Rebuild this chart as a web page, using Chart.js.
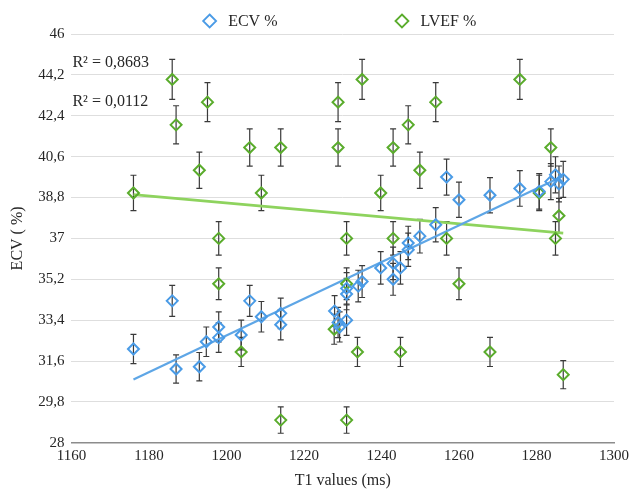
<!DOCTYPE html>
<html lang="en">
<head>
  <meta charset="UTF-8">
  <title>ECV / LVEF vs T1</title>
  <script src="https://cdn.jsdelivr.net/npm/chart.js"></script>
  <style>
    html, body { margin: 0; padding: 0; background: #fff; }
    #wrap { width: 629px; height: 490px; position: relative; }
  </style>
</head>
<body>
  <div id="wrap"><canvas id="t1Chart"></canvas></div>
  <script>
    // T1 (ms) and ECV % per patient
    const t1Ecv = [1176, 1186, 1187, 1193, 1194.8, 1198, 1198, 1203.8, 1206, 1209,
                   1214, 1214, 1227.9, 1228.8, 1229.2, 1231, 1231, 1231, 1234, 1235,
                   1239.8, 1243, 1243, 1244.9, 1246.9, 1246.9, 1249.9, 1254, 1256.8, 1260,
                   1268, 1275.7, 1280.7, 1283.7, 1284.9, 1285.8, 1286.9];
    const ecv = [32.13, 34.25, 31.25, 31.35, 32.45, 33.1, 32.63, 32.75, 34.25, 33.55,
                 33.7, 33.2, 33.8, 33.3, 33.1, 33.4, 34.55, 34.8, 34.9, 35.1,
                 35.7, 35.9, 35.2, 35.7, 36.5, 36.8, 37.1, 37.6, 39.7, 38.7,
                 38.9, 39.2, 39.07, 39.5, 39.8, 39.4, 39.6];

    // T1 (ms) and LVEF % per patient
    const t1Lvef = [1176, 1186, 1187, 1193, 1195.1, 1198, 1198, 1203.8, 1206, 1209,
                    1214, 1214, 1227.8, 1228.8, 1228.8, 1231, 1231, 1231, 1233.8, 1235,
                    1239.8, 1243, 1243, 1244.9, 1246.9, 1249.9, 1254, 1256.8, 1260, 1268,
                    1275.7, 1280.7, 1283.7, 1284.9, 1285.8, 1286.9];
    const lvef = [39, 44, 42, 40, 43, 37, 35, 32, 41, 39,
                  41, 29, 33, 43, 41, 37, 35, 29, 32, 44,
                  39, 41, 37, 32, 42, 40, 43, 37, 35, 32,
                  44, 39, 41, 37, 38, 31];

    // linear trendlines as drawn in the picture (start / end)
    const ecvTrendX = [1176, 1286.9];
    const ecvTrendY = [30.79, 39.75];
    const lvefTrendX = [1176, 1286.9];
    const lvefTrendY = [38.93, 37.23];
    const rSquared = ['R² = 0,8683', 'R² = 0,0112'];

    // percentage error bars (Excel style)
    const errorPct = 2;

    const xTicks = [1160, 1180, 1200, 1220, 1240, 1260, 1280, 1300];
    const yTicks = [28, 29.8, 31.6, 33.4, 35.2, 37, 38.8, 40.6, 42.4, 44.2, 46];

    const BLUE = '#4a9be6';
    const GREEN = '#5aac2c';
    const SERIF = "'Liberation Serif', 'DejaVu Serif', serif";

    function pts(xs, ys) {
      return xs.map((x, i) => ({ x: x, y: ys[i] }));
    }

    function fmtComma(v) {
      return (+v.toFixed(1)).toString().replace('.', ',');
    }

    // vertical error bars with caps, behind the markers
    const errorBars = {
      id: 'errorBars',
      beforeDatasetsDraw(chart) {
        const ctx = chart.ctx;
        const ys = chart.scales.y;
        ctx.save();
        ctx.strokeStyle = '#3a3a3a';
        ctx.lineWidth = 1.2;
        chart.data.datasets.forEach((ds, di) => {
          if (!ds.errorBars) return;
          const meta = chart.getDatasetMeta(di);
          meta.data.forEach((el, i) => {
            const v = ds.data[i].y;
            const e = v * errorPct / 100;
            const top = ys.getPixelForValue(v + e);
            const bot = ys.getPixelForValue(v - e);
            ctx.beginPath();
            ctx.moveTo(el.x, top);
            ctx.lineTo(el.x, bot);
            ctx.moveTo(el.x - 3, top);
            ctx.lineTo(el.x + 3, top);
            ctx.moveTo(el.x - 3, bot);
            ctx.lineTo(el.x + 3, bot);
            ctx.stroke();
          });
        });
        ctx.restore();
      }
    };

    // legend with wide spacing + R² labels
    const extras = {
      id: 'extras',
      afterDraw(chart) {
        const ctx = chart.ctx;
        const area = chart.chartArea;
        const ys = chart.scales.y;
        ctx.save();
        ctx.font = '16px ' + SERIF;
        ctx.fillStyle = '#262626';
        ctx.textBaseline = 'middle';

        const items = [['ECV %', BLUE], ['LVEF %', GREEN]];
        const gap = 118;
        const widths = items.map(it => 25 + ctx.measureText(it[0]).width);
        const total = widths[0] + widths[1] + gap;
        let x = (area.left + area.right) / 2 - 3 - total / 2;
        const y = 21;
        items.forEach((it, i) => {
          ctx.strokeStyle = it[1];
          ctx.lineWidth = 1.8;
          ctx.beginPath();
          ctx.moveTo(x + 6.5, y - 6.5);
          ctx.lineTo(x + 13, y);
          ctx.lineTo(x + 6.5, y + 6.5);
          ctx.lineTo(x, y);
          ctx.closePath();
          ctx.stroke();
          ctx.textAlign = 'left';
          ctx.fillText(it[0], x + 25, y + 1);
          x += widths[i] + gap;
        });

        ctx.textAlign = 'left';
        ctx.fillText(rSquared[0], area.left + 1, ys.getPixelForValue(44.72));
        ctx.fillText(rSquared[1], area.left + 1, ys.getPixelForValue(43.03));
        ctx.restore();
      }
    };

    const ctx = document.getElementById('t1Chart').getContext('2d');
    const t1Chart = new Chart(ctx, {
      type: 'scatter',
      data: {
        datasets: [
          {
            label: 'ECV trend',
            type: 'line',
            data: pts(ecvTrendX, ecvTrendY),
            borderColor: '#5ea6e6',
            borderWidth: 2.2,
            pointRadius: 0,
            fill: false,
            order: 3
          },
          {
            label: 'LVEF trend',
            type: 'line',
            data: pts(lvefTrendX, lvefTrendY),
            borderColor: '#8ed35e',
            borderWidth: 2.8,
            pointRadius: 0,
            fill: false,
            order: 3
          },
          {
            label: 'LVEF %',
            data: pts(t1Lvef, lvef),
            pointStyle: 'rectRot',
            pointRadius: 5.5,
            borderWidth: 2,
            borderColor: GREEN,
            backgroundColor: 'rgba(0,0,0,0)',
            errorBars: true,
            order: 1
          },
          {
            label: 'ECV %',
            data: pts(t1Ecv, ecv),
            pointStyle: 'rectRot',
            pointRadius: 5.5,
            borderWidth: 2,
            borderColor: BLUE,
            backgroundColor: 'rgba(0,0,0,0)',
            errorBars: true,
            order: 0
          }
        ]
      },
      options: {
        responsive: true,
        maintainAspectRatio: false,
        animation: false,
        layout: { padding: { top: 34, right: 0, bottom: 0, left: 8 } },
        plugins: {
          legend: { display: false },
          tooltip: { enabled: false }
        },
        scales: {
          x: {
            type: 'linear',
            min: 1160,
            max: 1300,
            afterBuildTicks: s => { s.ticks = xTicks.map(v => ({ value: v })); },
            afterFit: s => { s.paddingRight = 15; },
            grid: { display: false, drawTicks: false },
            border: { display: true, color: '#8c8c8c', width: 1.5 },
            ticks: {
              color: '#262626',
              font: { family: SERIF, size: 15 },
              padding: 4,
              maxRotation: 0,
              callback: v => String(v)
            },
            title: {
              display: true,
              text: 'T1 values (ms)',
              color: '#262626',
              font: { family: SERIF, size: 16 },
              padding: { top: 2, bottom: 0 }
            }
          },
          y: {
            type: 'linear',
            min: 28,
            max: 46,
            afterBuildTicks: s => { s.ticks = yTicks.map(v => ({ value: v })); },
            grid: { color: '#dedede', lineWidth: 1, drawTicks: false },
            border: { display: false },
            ticks: {
              color: '#262626',
              font: { family: SERIF, size: 15 },
              padding: 7,
              callback: v => fmtComma(v)
            },
            title: {
              display: true,
              text: 'ECV ( %)',
              color: '#262626',
              font: { family: SERIF, size: 16 },
              padding: { top: 0, bottom: 4 }
            }
          }
        }
      },
      plugins: [errorBars, extras]
    });
  </script>
</body>
</html>
